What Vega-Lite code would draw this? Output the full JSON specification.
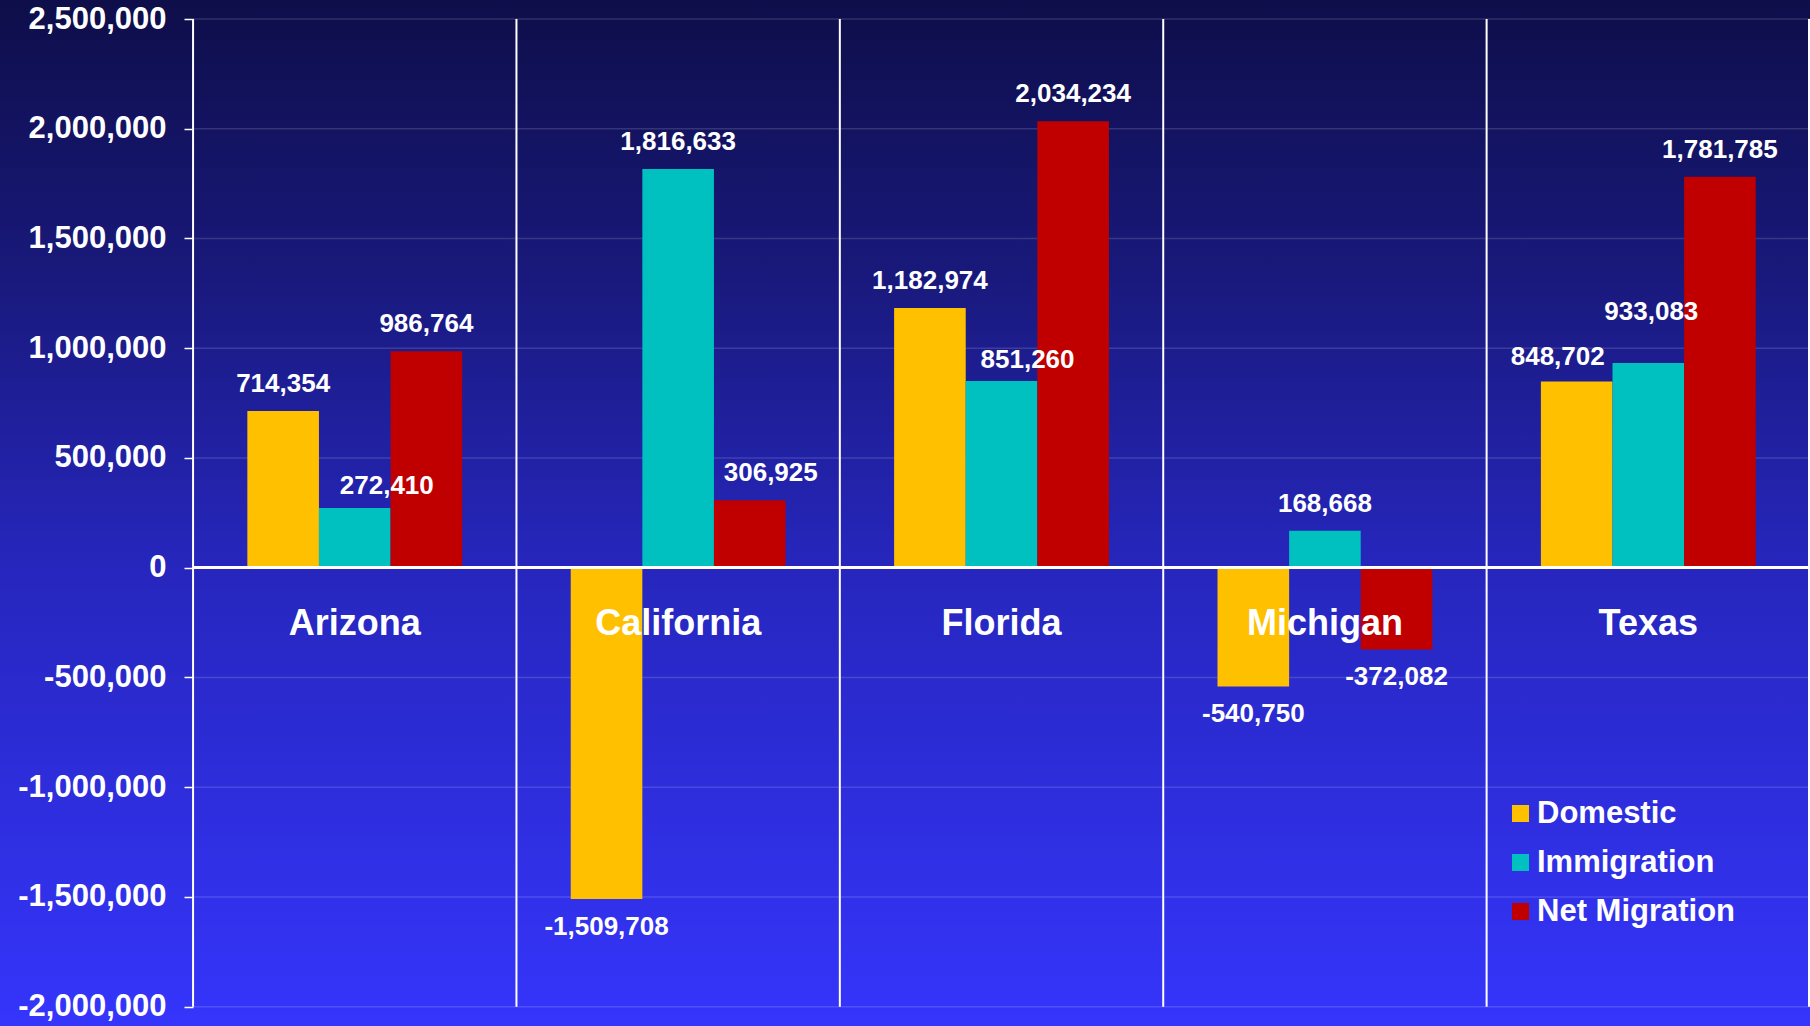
{
  "$schema": "https://vega.github.io/schema/vega-lite/v6.json",
  "width": 1810,
  "height": 1026,
  "padding": 0,
  "autosize": {"type": "none"},
  "background": "#1e1e96",
  "config": {
    "view": {
      "stroke": null,
      "fill": {"gradient": "linear", "x1": 0, "y1": 0, "x2": 0, "y2": 1,
        "stops": [
          {"offset": 0, "color": "#0e0e4a"},
          {"offset": 0.25, "color": "#181878"},
          {"offset": 0.55, "color": "#2626bd"},
          {"offset": 1, "color": "#3535fc"}
        ]}
    },
    "locale": {"number": {"decimal": ".", "thousands": ",", "grouping": [3], "currency": ["$", ""], "minus": "-"}},
    "font": "Liberation Sans",
    "text": {"font": "Liberation Sans", "fontWeight": "bold", "color": "white"}
  },
  "datasets": {
    "migration": [
      {"State": "Arizona", "Series": "Domestic", "Value": 714354},
      {"State": "Arizona", "Series": "Immigration", "Value": 272410},
      {"State": "Arizona", "Series": "Net Migration", "Value": 986764},
      {"State": "California", "Series": "Domestic", "Value": -1509708},
      {"State": "California", "Series": "Immigration", "Value": 1816633},
      {"State": "California", "Series": "Net Migration", "Value": 306925},
      {"State": "Florida", "Series": "Domestic", "Value": 1182974},
      {"State": "Florida", "Series": "Immigration", "Value": 851260},
      {"State": "Florida", "Series": "Net Migration", "Value": 2034234},
      {"State": "Michigan", "Series": "Domestic", "Value": -540750},
      {"State": "Michigan", "Series": "Immigration", "Value": 168668},
      {"State": "Michigan", "Series": "Net Migration", "Value": -372082},
      {"State": "Texas", "Series": "Domestic", "Value": 848702},
      {"State": "Texas", "Series": "Immigration", "Value": 933083},
      {"State": "Texas", "Series": "Net Migration", "Value": 1781785}
    ],
    "gridlines": [
      {"Value": -2000000}, {"Value": -1500000}, {"Value": -1000000}, {"Value": -500000},
      {"Value": 500000}, {"Value": 1000000}, {"Value": 1500000}, {"Value": 2000000}, {"Value": 2500000}
    ]
  },
  "data": {"name": "migration"},
  "encoding": {
    "x": {
      "field": "State", "type": "nominal", "sort": null,
      "scale": {"domain": ["Arizona", "California", "Florida", "Michigan", "Texas"], "paddingInner": 0, "paddingOuter": 0.2985, "align": 1},
      "axis": null
    },
    "xOffset": {"field": "Series", "type": "nominal", "sort": null,
      "scale": {"paddingInner": 0, "paddingOuter": 0.758}},
    "y": {
      "field": "Value", "type": "quantitative",
      "scale": {"domain": [-2087900, 2586600], "nice": false, "zero": false},
      "axis": {"title": null, "offset": -193, "domain": false,
        "values": [-2000000, -1500000, -1000000, -500000, 0, 500000, 1000000, 1500000, 2000000, 2500000],
        "format": ",d", "labelFont": "Liberation Sans", "labelFontWeight": "bold", "labelFontSize": 31,
        "labelColor": "#ffffff", "labelPadding": 18, "tickColor": "#ffffff", "tickSize": 9, "tickWidth": 1.5,
        "grid": false}
    }
  },
  "layer": [
    {
      "data": {"name": "gridlines"},
      "mark": {"type": "rule", "color": "#ffffff", "opacity": 0.14, "strokeWidth": 1.5},
      "encoding": {
        "x": {"datum": "Arizona", "bandPosition": 0},
        "x2": {"datum": "Texas", "bandPosition": 1},
        "xOffset": null,
        "y": {"field": "Value", "type": "quantitative"}
      }
    },
    {
      "transform": [{"filter": "datum.Series == 'Domestic'"}],
      "mark": {"type": "rule", "color": "#ffffff", "strokeWidth": 2},
      "encoding": {
        "x": {"field": "State", "type": "nominal", "sort": null, "bandPosition": 0},
        "xOffset": null,
        "y": {"datum": 2500000},
        "y2": {"datum": -2000000}
      }
    },
    {
      "transform": [{"filter": "datum.Series == 'Domestic' && datum.State == 'Texas'"}],
      "mark": {"type": "rule", "color": "#ffffff", "strokeWidth": 4},
      "encoding": {
        "x": {"field": "State", "type": "nominal", "sort": null, "bandPosition": 1},
        "xOffset": null,
        "y": {"datum": 2500000},
        "y2": {"datum": -2000000}
      }
    },
    {
      "mark": {"type": "bar", "width": {"band": 1}},
      "encoding": {
        "color": {
          "field": "Series", "type": "nominal",
          "scale": {"domain": ["Domestic", "Immigration", "Net Migration"], "range": ["#ffc000", "#00c0c0", "#c00000"]},
          "legend": {"title": null, "orient": "none", "legendX": 1505, "legendY": 798, "padding": 0,
            "symbolType": "square", "symbolSize": 290, "symbolStrokeWidth": 0, "symbolOpacity": 1,
            "labelFont": "Liberation Sans", "labelFontWeight": "bold", "labelFontSize": 31, "labelColor": "#ffffff",
            "labelOffset": 1, "rowPadding": 17, "labelLimit": 0}
        }
      }
    },
    {
      "mark": {"type": "rule", "color": "#ffffff", "strokeWidth": 2.5},
      "encoding": {
        "y": {"datum": 0},
        "x": {"datum": "Arizona", "bandPosition": 0},
        "x2": {"datum": "Texas", "bandPosition": 1},
        "xOffset": null
      }
    },
    {
      "transform": [{"filter": "datum.Value > 0 && !((datum.State == 'Arizona' && datum.Series == 'Immigration') || (datum.State == 'California' && datum.Series == 'Net Migration') || (datum.State == 'Florida' && datum.Series == 'Immigration') || (datum.State == 'Texas' && datum.Series != 'Net Migration'))"}],
      "mark": {"type": "text", "fontSize": 26, "baseline": "middle", "dy": -27},
      "encoding": {"text": {"field": "Value", "type": "quantitative", "format": ",d"}}
    },
    {
      "transform": [{"filter": "datum.Value < 0"}],
      "mark": {"type": "text", "fontSize": 26, "baseline": "middle", "dy": 28},
      "encoding": {"text": {"field": "Value", "type": "quantitative", "format": ",d"}}
    },
    {
      "transform": [{"filter": "datum.State == 'Arizona' && datum.Series == 'Immigration'"}],
      "mark": {"type": "text", "fontSize": 26, "baseline": "middle", "dy": -22, "dx": 32},
      "encoding": {"text": {"field": "Value", "type": "quantitative", "format": ",d"}}
    },
    {
      "transform": [{"filter": "datum.State == 'California' && datum.Series == 'Net Migration'"}],
      "mark": {"type": "text", "fontSize": 26, "baseline": "middle", "dy": -27, "dx": 21},
      "encoding": {"text": {"field": "Value", "type": "quantitative", "format": ",d"}}
    },
    {
      "transform": [{"filter": "datum.State == 'Florida' && datum.Series == 'Immigration'"}],
      "mark": {"type": "text", "fontSize": 26, "baseline": "middle", "dy": -21, "dx": 26},
      "encoding": {"text": {"field": "Value", "type": "quantitative", "format": ",d"}}
    },
    {
      "transform": [{"filter": "datum.State == 'Texas' && datum.Series == 'Immigration'"}],
      "mark": {"type": "text", "fontSize": 26, "baseline": "middle", "dy": -51, "dx": 3},
      "encoding": {"text": {"field": "Value", "type": "quantitative", "format": ",d"}}
    },
    {
      "transform": [{"filter": "datum.State == 'Texas' && datum.Series == 'Domestic'"}],
      "mark": {"type": "text", "fontSize": 26, "baseline": "middle", "dy": -24, "dx": -19},
      "encoding": {"text": {"field": "Value", "type": "quantitative", "format": ",d"}}
    },
    {
      "transform": [{"filter": "datum.Series == 'Domestic'"}],
      "mark": {"type": "text", "fontSize": 36, "baseline": "middle", "dy": 56},
      "encoding": {"text": {"field": "State", "type": "nominal"}, "y": {"datum": 0}, "xOffset": null}
    }
  ]
}
